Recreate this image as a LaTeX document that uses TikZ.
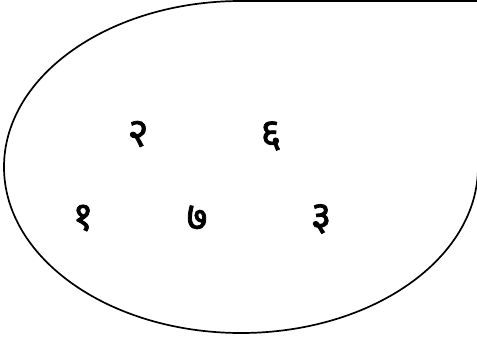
\documentclass[tikz,border=0pt]{standalone}
\usepackage{fontspec}
\newfontfamily\devfont[Script=Devanagari,FakeBold=2]{Noto Sans}
\begin{document}
\begin{tikzpicture}[x=1pt,y=-1pt,
  digit/.style={font=\devfont\fontsize{40}{42}\selectfont, inner sep=0pt},
  blob/.style={draw=black, line width=1.7pt}]
\useasboundingbox (0,0) rectangle (477,340);
\draw[blob] (241,1) -- (478,1) -- (478,167)
  arc[start angle=0, end angle=-180, x radius=237, y radius=-166]
  arc[start angle=180, end angle=90, x radius=237, y radius=-166] -- cycle;
\node[digit] (d2) at (138,134) {२};
\node[digit] (d6) at (271,136) {६};
\node[digit] (d1) at (83,218) {१};
\node[digit] (d7) at (197,218) {७};
\node[digit] (d3) at (321,219) {३};
\end{tikzpicture}
\end{document}
